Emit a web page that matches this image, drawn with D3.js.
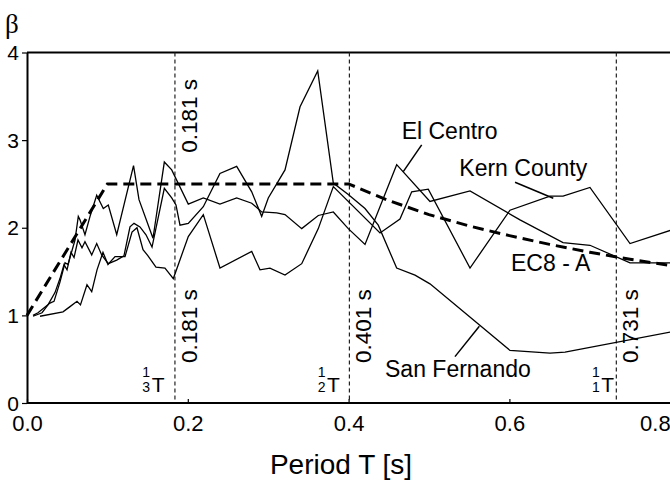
<!DOCTYPE html>
<head>
<meta charset='utf-8'>
<style>
  body { margin: 0; background: #fff; }
  svg text { font-family: 'Liberation Sans', Arial, sans-serif; fill: #000; }
  .curve { fill: none; stroke: #000; stroke-width: 1.3px; stroke-linejoin: miter; }
  .ec8 { fill: none; stroke: #000; stroke-width: 3px; stroke-dasharray: 11 6; }
  .vline { stroke: #222; stroke-width: 1.2px; stroke-dasharray: 4 3; }
  .pointer { stroke: #000; stroke-width: 1.5px; }
</style>
</head>
<body>
<div id='vis'></div>
<script src='https://d3js.org/d3.v7.min.js'></script>
<script>
// spectra, [period T (s), beta]
const elCentro = [[0.0075,1.00],[0.0137,1.03],[0.0286,1.14],[0.0336,1.16],[0.041,1.38],[0.0473,1.60],[0.051,1.58],
  [0.0597,1.86],[0.0638,2.13],[0.0659,2.09],[0.0721,1.92],[0.0784,2.13],[0.0867,2.37],[0.0949,2.22],[0.1011,2.26],
  [0.1116,1.92],[0.1325,2.71],[0.1393,2.32],[0.1567,1.88],[0.1708,2.75],[0.18,2.66],[0.2006,2.27],[0.2193,2.34],
  [0.24,2.27],[0.2608,2.34],[0.2795,2.28],[0.2919,2.18],[0.3106,2.17],[0.3209,2.15],[0.3417,1.99],[0.3623,2.14],
  [0.381,2.18],[0.3996,1.99],[0.4204,1.81],[0.4598,2.72],[0.5012,2.30],[0.551,2.42],[0.6132,2.09],[0.6667,1.83],
  [0.7002,1.80],[0.75,1.60],[0.8,1.60]]

const sanFernando = [[0.0075,0.99],[0.0187,1.03],[0.0261,1.12],[0.0348,1.26],[0.041,1.42],[0.046,1.58],[0.0498,1.52],
  [0.0547,1.72],[0.0585,1.66],[0.0634,1.86],[0.0684,1.77],[0.0721,1.84],[0.0805,1.69],[0.0867,1.82],[0.0929,1.69],
  [0.1011,1.59],[0.1116,1.63],[0.1206,1.68],[0.1281,2.01],[0.1331,2.05],[0.1405,2.01],[0.148,1.92],[0.1555,1.78],
  [0.1708,2.45],[0.18,2.34],[0.1853,2.26],[0.1903,2.03],[0.2006,2.05],[0.2193,2.24],[0.24,2.62],[0.2608,2.70],
  [0.2795,2.41],[0.2919,2.13],[0.3001,2.34],[0.3209,2.66],[0.3396,3.38],[0.3616,3.79],[0.381,2.51],[0.3996,2.38],
  [0.4204,2.22],[0.4369,2.03],[0.4598,1.54],[0.4826,1.46],[0.5012,1.36],[0.6007,0.60],[0.6505,0.57],[0.6692,0.58],
  [0.8,0.81]]

const kernCounty = [[0.0162,0.99],[0.0448,1.04],[0.0535,1.10],[0.0622,1.16],[0.0665,1.12],[0.0746,1.35],[0.0805,1.27],
  [0.0871,1.52],[0.0945,1.72],[0.1007,1.58],[0.1095,1.67],[0.1219,1.67],[0.1306,1.95],[0.1368,2.00],[0.1443,1.75],
  [0.1505,1.68],[0.1604,1.55],[0.1716,1.54],[0.182,1.42],[0.2006,1.90],[0.2193,2.15],[0.24,1.54],[0.2795,1.73],
  [0.2898,1.52],[0.3022,1.54],[0.3209,1.46],[0.3417,1.59],[0.3623,1.99],[0.381,2.47],[0.4391,1.94],[0.4639,2.10],
  [0.4785,2.41],[0.4991,2.44],[0.551,1.54],[0.6007,2.20],[0.6505,2.36],[0.6667,2.36],[0.7002,2.46],[0.75,1.82],
  [0.8,1.97]]

// EC8 design spectrum, ground A
const ec8A = [[0,1],[0.1,2.5],[0.4,2.5],[0.45,2.31],[0.5,2.15],[0.55,2.02],[0.6,1.91],[0.65,1.81],[0.7,1.72],
  [0.75,1.64],[0.8,1.57]]

// natural periods marked with vertical lines
const modePeriods = [0.184, 0.401, 0.733]
const modeLabels = ['0.181 s', '0.401 s', '0.731 s']
const modeDen = ['3', '2', '1']

const xTicks = [0, 0.2, 0.4, 0.6, 0.8]
const yTicks = [0, 1, 2, 3, 4]

const width = 670, height = 485

const x = d3.scaleLinear().domain([0, 0.8]).range([27, 670.2])
const y = d3.scaleLinear().domain([0, 4]).range([403, 52.5])

const svg = d3.select('#vis').append('svg')
  .attr('width', width)
  .attr('height', height)

const line = d3.line().x(d => x(d[0])).y(d => y(d[1]))

// top frame
svg.append('line')
  .attr('x1', x(0)).attr('x2', width)
  .attr('y1', y(4)).attr('y2', y(4))
  .attr('stroke', '#000').attr('stroke-width', 2)

// vertical period markers
svg.selectAll('.vline')
  .data(modePeriods)
  .enter().append('line')
  .attr('class', 'vline')
  .attr('x1', d => x(d)).attr('x2', d => x(d))
  .attr('y1', y(4)).attr('y2', y(0))

// spectra
svg.selectAll('.curve')
  .data([elCentro, sanFernando, kernCounty])
  .enter().append('path')
  .attr('class', 'curve')
  .attr('d', line)

svg.append('path')
  .datum(ec8A)
  .attr('class', 'ec8')
  .attr('d', line)

// axes
const xAxis = svg.append('g')
  .attr('transform', `translate(0, ${y(0)})`)
  .call(d3.axisBottom(x).tickValues(xTicks).tickSizeInner(-4).tickSizeOuter(0).tickFormat(d3.format('.1f')))
xAxis.select('.domain').attr('stroke-width', 2).attr('d', `M${x(0)},0H${width}`)
xAxis.selectAll('.tick line').attr('stroke-width', 1.2)
xAxis.selectAll('.tick text')
  .attr('y', 28).attr('dy', 0)
  .attr('font-size', 22)
  .attr('font-family', null)
  .attr('text-anchor', d => d === 0.8 ? 'end' : 'middle')

const yAxis = svg.append('g')
  .attr('transform', `translate(${x(0)}, 0)`)
  .call(d3.axisLeft(y).tickValues(yTicks).tickSizeInner(5).tickSizeOuter(0).tickPadding(3).tickFormat(d3.format('d')))
yAxis.select('.domain').attr('stroke-width', 2)
yAxis.selectAll('.tick line').attr('stroke-width', 1.2)
yAxis.selectAll('.tick text')
  .attr('font-size', 21)
  .attr('font-family', null)
  .attr('dy', '0.34em')

// titles
svg.append('text')
  .attr('x', 5).attr('y', 33)
  .attr('font-size', 27)
  .style('font-family', "'Liberation Serif', serif")
  .text('β')

svg.append('text')
  .attr('x', 341).attr('y', 474)
  .attr('text-anchor', 'middle')
  .attr('font-size', 28)
  .text('Period T [s]')

// rotated period labels
const labelOffset = 21.7
svg.append('text')
  .attr('transform', `translate(${x(modePeriods[0]) + labelOffset}, ${y(2.855)}) rotate(-90)`)
  .attr('font-size', 22.5)
  .text(modeLabels[0])

svg.selectAll('.plabel')
  .data(modePeriods)
  .enter().append('text')
  .attr('class', 'plabel')
  .attr('transform', d => `translate(${x(d) + labelOffset}, ${y(0.457)}) rotate(-90)`)
  .attr('font-size', 22.5)
  .text((d, i) => modeLabels[i])

// mode fractions 1/n T
const tOffset = [-23.3, -22.3, -15]
modePeriods.forEach((p, i) => {
  const tx = x(p) + tOffset[i]
  svg.append('text')
    .attr('x', tx).attr('y', y(0.125))
    .attr('font-size', 21)
    .text('T')
  svg.append('text')
    .attr('x', tx - 1.5).attr('y', y(0.30))
    .attr('text-anchor', 'end')
    .attr('font-size', 14)
    .text('1')
  svg.append('text')
    .attr('x', tx - 1.5).attr('y', y(0.125))
    .attr('text-anchor', 'end')
    .attr('font-size', 14)
    .text(modeDen[i])
})

// series labels and leader lines
const seriesLabels = [
  {text: 'El Centro', t: 0.466, b: 3.008, p: [[0.4909, 2.945], [0.468, 2.64]]},
  {text: 'Kern County', t: 0.5377, b: 2.595, p: [[0.607, 2.519], [0.6546, 2.337]]},
  {text: 'EC8 - A', t: 0.602, b: 1.509, p: null},
  {text: 'San Fernando', t: 0.4453, b: 0.30, p: [[0.5323, 0.529], [0.5626, 0.876]]}
]

svg.selectAll('.slabel')
  .data(seriesLabels)
  .enter().append('text')
  .attr('class', 'slabel')
  .attr('x', d => x(d.t)).attr('y', d => y(d.b))
  .attr('font-size', 23)
  .text(d => d.text)

svg.selectAll('.pointer')
  .data(seriesLabels.filter(d => d.p))
  .enter().append('line')
  .attr('class', 'pointer')
  .attr('x1', d => x(d.p[0][0])).attr('y1', d => y(d.p[0][1]))
  .attr('x2', d => x(d.p[1][0])).attr('y2', d => y(d.p[1][1]))
</script>
</body>
